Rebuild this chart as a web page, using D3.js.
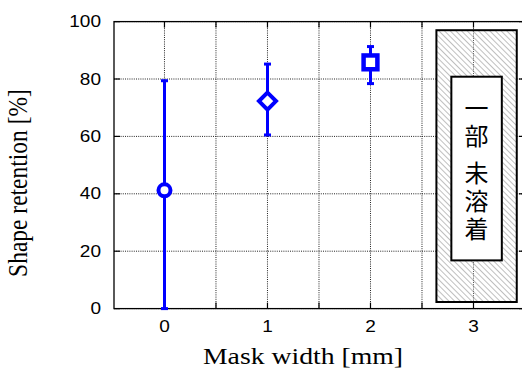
<!DOCTYPE html>
<html><head><meta charset="utf-8">
<script src="https://cdn.jsdelivr.net/npm/d3@7"></script>
<style>body{margin:0;background:#fff}svg{display:block}</style>
</head><body><svg id="c" width="522" height="369"></svg>
<script>
// data
const categories = [0, 1, 2];
const means = [41.2, 72.3, 85.8];
const errLow = [0, 60.5, 78.4];
const errHigh = [79.4, 85.2, 91.3];
const markers = ["circle", "diamond", "square"];
const xTicks = [0, 1, 2, 3];
const xGrid = [0, 0.5, 1, 1.5, 2, 2.5, 3];
const yTicks = [0, 20, 40, 60, 80, 100];
const noteText = "一部 未溶着";
const noteOuter = [2.64, 3.42, 2.3, 97.0];   // x0,x1,y0,y1 in data units
const noteInner = [2.785, 3.275, 16.8, 80.8];
const xTitle = "Mask width [mm]";
const yTitle = "Shape retention [%]";

const svg = d3.select("#c");
const x = d3.scaleLinear().domain([-0.49, 3.5]).range([114, 525]);
const y = d3.scaleLinear().domain([0, 100]).range([308.6, 21.6]);
const blue = "#0000ff";

const defs = svg.append("defs");
const pat = defs.append("pattern").attr("id","hatch").attr("patternUnits","userSpaceOnUse")
  .attr("width",4).attr("height",4).attr("patternTransform","rotate(-45)");
pat.append("rect").attr("width",4).attr("height",4).attr("fill","#fff");
pat.append("line").attr("x1",0).attr("y1",0).attr("x2",0).attr("y2",4)
  .attr("stroke","#8a8a8a").attr("stroke-width",1.1);

// grid
const g = svg.append("g");
g.selectAll(".vg").data(xGrid).join("line")
  .attr("x1",d=>x(d)).attr("x2",d=>x(d)).attr("y1",y(0)).attr("y2",y(100))
  .attr("stroke","#222").attr("stroke-width",1).attr("stroke-dasharray","1,1.2");
g.selectAll(".hg").data(yTicks).join("line")
  .attr("x1",x.range()[0]).attr("x2",x.range()[1]).attr("y1",d=>y(d)).attr("y2",d=>y(d))
  .attr("stroke","#222").attr("stroke-width",1).attr("stroke-dasharray","1,1.2");

// note box
svg.append("rect").attr("x",x(noteOuter[0])).attr("y",y(noteOuter[3]))
  .attr("width",x(noteOuter[1])-x(noteOuter[0])).attr("height",y(noteOuter[2])-y(noteOuter[3]))
  .attr("fill","url(#hatch)").attr("stroke","#000").attr("stroke-width",2);
svg.append("line").attr("x1",x(3)).attr("x2",x(3)).attr("y1",y(noteOuter[3])+1).attr("y2",y(noteOuter[2])-1)
  .attr("stroke","#555").attr("stroke-width",1).attr("stroke-dasharray","1,1.2");
svg.append("rect").attr("x",x(noteInner[0])).attr("y",y(noteInner[3]))
  .attr("width",x(noteInner[1])-x(noteInner[0])).attr("height",y(noteInner[2])-y(noteInner[3]))
  .attr("fill","#fff").attr("stroke","#000").attr("stroke-width",2);
const cx = (x(noteInner[0])+x(noteInner[1]))/2;
svg.append("text").attr("x",cx).attr("y",96)
  .style("writing-mode","vertical-rl")
  .attr("font-family","'Noto Sans CJK JP'").attr("font-size",24)
  .attr("letter-spacing",4).attr("fill","#000").text(noteText);

// frame
svg.append("rect").attr("x",x.range()[0]).attr("y",y(100))
  .attr("width",x.range()[1]-x.range()[0]).attr("height",y(0)-y(100))
  .attr("fill","none").attr("stroke","#000").attr("stroke-width",1.3);

// ticks (inward, all sides)
const tl = 6;
const tk = svg.append("g").attr("stroke","#000").attr("stroke-width",1.2);
xGrid.forEach(d=>{
  tk.append("line").attr("x1",x(d)).attr("x2",x(d)).attr("y1",y(0)).attr("y2",y(0)-tl);
  tk.append("line").attr("x1",x(d)).attr("x2",x(d)).attr("y1",y(100)).attr("y2",y(100)+tl);
});
yTicks.forEach(d=>{
  tk.append("line").attr("x1",x.range()[0]).attr("x2",x.range()[0]+tl).attr("y1",y(d)).attr("y2",y(d));
  tk.append("line").attr("x1",x.range()[1]).attr("x2",x.range()[1]-tl).attr("y1",y(d)).attr("y2",y(d));
});

// tick labels
const sx = 1.12;
yTicks.forEach(d=>{
  svg.append("text").attr("transform",`translate(101,${y(d)}) scale(${sx},1)`)
    .attr("text-anchor","end").attr("dominant-baseline","central")
    .attr("font-family","'Liberation Sans', Arial").attr("font-size",17).attr("fill","#000").text(d);
});
xTicks.forEach(d=>{
  svg.append("text").attr("transform",`translate(${x(d)},326.5) scale(${sx},1)`)
    .attr("text-anchor","middle").attr("dominant-baseline","central")
    .attr("font-family","'Liberation Sans', Arial").attr("font-size",17).attr("fill","#000").text(d);
});

// axis titles
svg.append("text").attr("x",303).attr("y",364).attr("text-anchor","middle")
  .attr("font-family","'Liberation Serif', 'Times New Roman'").attr("font-size",24)
  .attr("textLength",200).attr("lengthAdjust","spacingAndGlyphs").attr("fill","#000").text(xTitle);
svg.append("text").attr("transform","translate(27,183) rotate(-90) scale(1,1.12)")
  .attr("text-anchor","middle")
  .attr("font-family","'Liberation Serif', 'Times New Roman'").attr("font-size",23.5)
  .attr("fill","#000").text(yTitle);

// error bars
const eb = svg.append("g").attr("stroke",blue).attr("stroke-width",3);
categories.forEach((c,i)=>{
  eb.append("line").attr("x1",x(c)).attr("x2",x(c)).attr("y1",y(errLow[i])).attr("y2",y(errHigh[i]));
  [errLow[i], errHigh[i]].forEach(v=>{
    eb.append("line").attr("x1",x(c)-3.5).attr("x2",x(c)+3.5).attr("y1",y(v)).attr("y2",y(v));
  });
});

// markers
categories.forEach((c,i)=>{
  const px = x(c), py = y(means[i]);
  if (markers[i]==="circle") {
    svg.append("circle").attr("cx",px).attr("cy",py).attr("r",6)
      .attr("fill","#fff").attr("stroke",blue).attr("stroke-width",4);
  } else if (markers[i]==="diamond") {
    const r = 8.5;
    svg.append("path").attr("d",`M${px},${py-r}L${px+r},${py}L${px},${py+r}L${px-r},${py}Z`)
      .attr("fill","#fff").attr("stroke",blue).attr("stroke-width",4);
  } else {
    const h = 6.9;
    svg.append("rect").attr("x",px-h).attr("y",py-h).attr("width",2*h).attr("height",2*h)
      .attr("fill","#fff").attr("stroke",blue).attr("stroke-width",4.5);
  }
});
</script></body></html>
